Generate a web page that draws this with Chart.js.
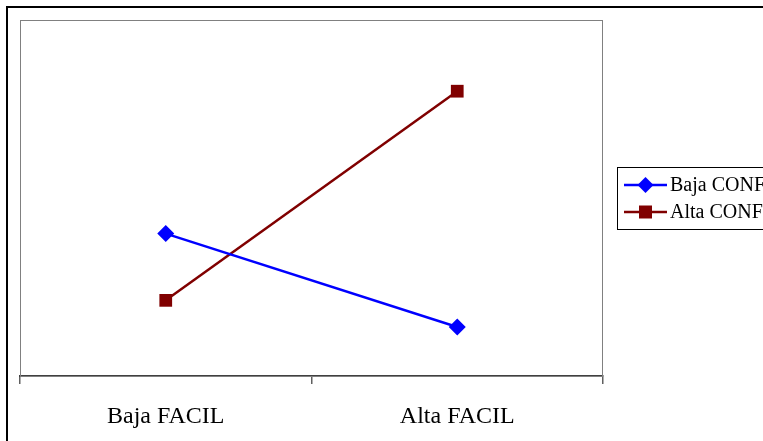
<!DOCTYPE html>
<html>
<head>
<meta charset="utf-8">
<title>FACIL x CONF</title>
<script src="https://cdn.jsdelivr.net/npm/chart.js@4/dist/chart.umd.min.js"></script>
<style>
  html, body { margin: 0; padding: 0; background: #fff; overflow: hidden; }
  canvas { display: block; }
</style>
</head>
<body>
<canvas id="lineChart" width="763" height="441"></canvas>
<script>
// categorias del eje X y series
var categories = ['Baja FACIL', 'Alta FACIL'];
var seriesNames = ['Baja CONF', 'Alta CONF'];
var bajaConf = [3.52, 3.31];
var altaConf = [3.37, 3.84];
var yMin = 3.2;
var yMax = 4.0;

var serif = "'Liberation Serif', 'Times New Roman', serif";

// marco exterior, borde del area de trazado y leyenda a la derecha
var framePlugin = {
    id: 'frame',
    beforeDatasetsDraw: function (chart) {
        var ctx = chart.ctx, a = chart.chartArea;
        ctx.save();
        ctx.strokeStyle = '#808080';
        ctx.lineWidth = 1;
        ctx.strokeRect(a.left + 0.5, a.top + 0.5, a.right - a.left - 1, a.bottom - a.top);
        ctx.restore();
    },
    afterDraw: function (chart) {
        var ctx = chart.ctx;
        ctx.save();
        ctx.strokeStyle = '#000';
        ctx.lineWidth = 2;
        ctx.strokeRect(7, 7, 900, 600);

        // leyenda
        ctx.lineWidth = 1;
        ctx.strokeRect(617.5, 167.5, 300, 62);
        var rows = [185, 212];
        chart.data.datasets.forEach(function (ds, i) {
            var y = rows[i];
            ctx.strokeStyle = ds.borderColor;
            ctx.lineWidth = 2.5;
            ctx.beginPath();
            ctx.moveTo(624, y);
            ctx.lineTo(667, y);
            ctx.stroke();
            ctx.fillStyle = ds.pointBackgroundColor;
            ctx.beginPath();
            if (ds.pointStyle === 'rectRot') {
                var r = 8;
                ctx.moveTo(645.5 - r, y);
                ctx.lineTo(645.5, y - r);
                ctx.lineTo(645.5 + r, y);
                ctx.lineTo(645.5, y + r);
                ctx.closePath();
            } else {
                ctx.rect(645.5 - 6.5, y - 6.5, 13, 13);
            }
            ctx.fill();
            ctx.fillStyle = '#000';
            ctx.font = '20px ' + serif;
            ctx.textBaseline = 'middle';
            ctx.textAlign = 'left';
            ctx.fillText(ds.label, 670, y + 1);
        });
        ctx.restore();
    }
};

var ctx = document.getElementById('lineChart').getContext('2d');
var chart = new Chart(ctx, {
    type: 'line',
    data: {
        labels: categories,
        datasets: [{
            label: seriesNames[0],
            data: bajaConf,
            borderColor: '#0000ff',
            backgroundColor: '#0000ff',
            pointBackgroundColor: '#0000ff',
            pointBorderColor: '#0000ff',
            pointStyle: 'rectRot',
            pointRadius: 8.5,
            pointBorderWidth: 0,
            borderWidth: 2.5,
            tension: 0
        }, {
            label: seriesNames[1],
            data: altaConf,
            borderColor: '#800000',
            backgroundColor: '#800000',
            pointBackgroundColor: '#800000',
            pointBorderColor: '#800000',
            pointStyle: 'rect',
            pointRadius: 9,
            pointBorderWidth: 0,
            borderWidth: 2.5,
            tension: 0
        }]
    },
    options: {
        responsive: false,
        animation: false,
        layout: { padding: { left: 20, top: 20, right: 160, bottom: 0 } },
        plugins: {
            legend: { display: false },
            tooltip: { enabled: false }
        },
        scales: {
            x: {
                offset: true,
                afterFit: function (scale) { scale.height = 65; },
                grid: {
                    offset: true,
                    drawOnChartArea: false,
                    drawTicks: true,
                    tickLength: 8,
                    color: '#606060',
                    lineWidth: 1.5
                },
                border: { display: true, color: '#404040', width: 2 },
                ticks: {
                    color: '#000',
                    padding: 18,
                    maxRotation: 0,
                    font: { family: serif, size: 24 }
                }
            },
            y: {
                display: false,
                min: yMin,
                max: yMax
            }
        }
    },
    plugins: [framePlugin]
});
</script>
</body>
</html>
